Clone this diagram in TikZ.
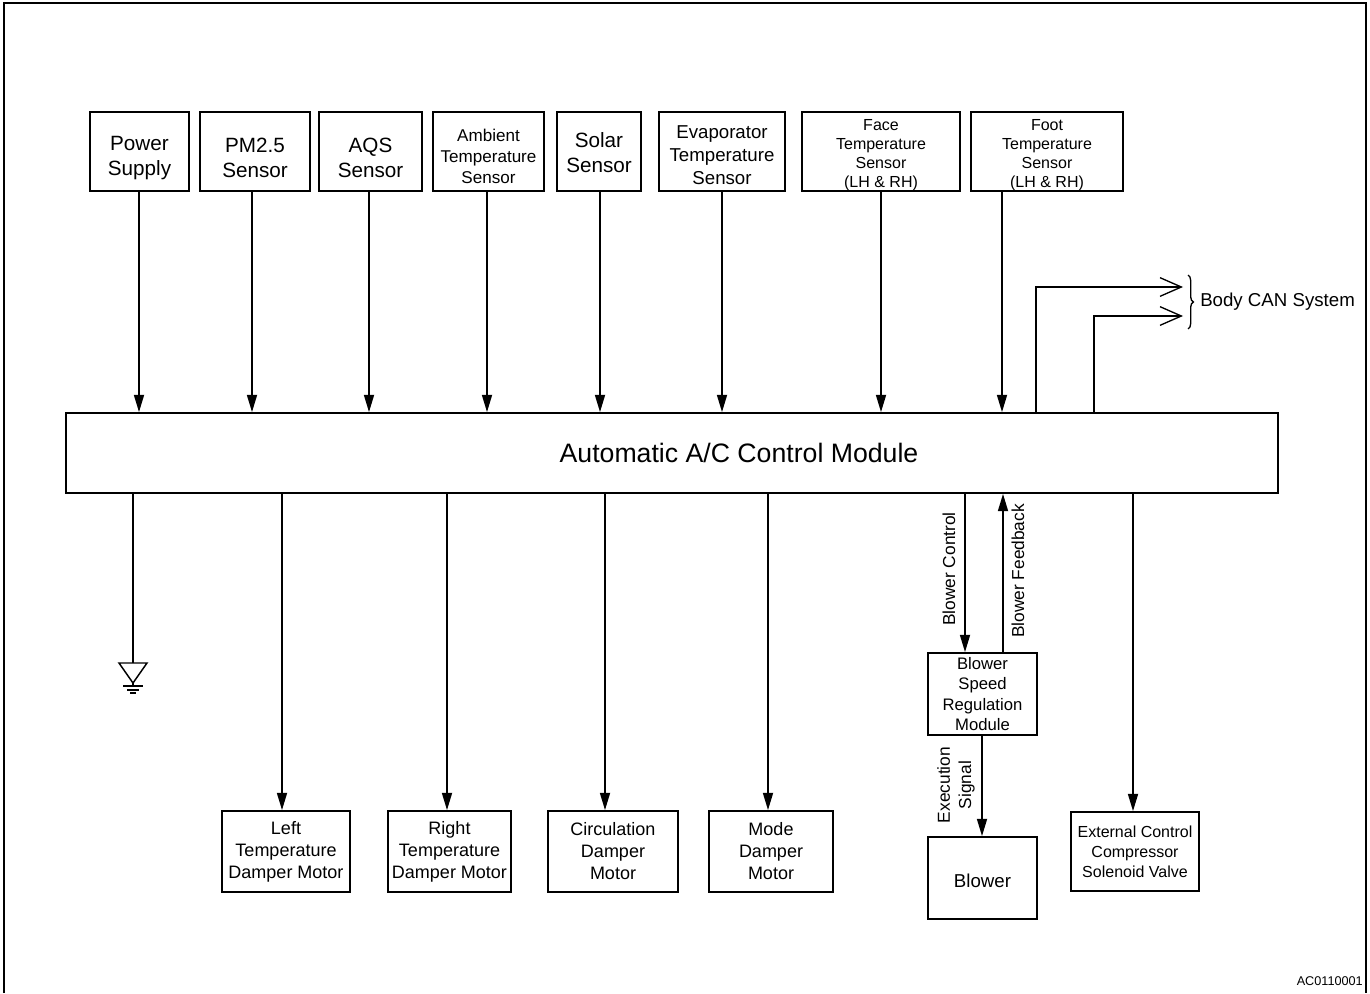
\documentclass[tikz,border=0pt]{standalone}
\usepackage{fontspec}
\setmainfont{Liberation Sans}
\usetikzlibrary{arrows.meta,decorations.pathreplacing}
\newcommand{\fsz}[2]{\fontsize{#1}{#2}\selectfont}
\begin{document}
\begin{tikzpicture}[x=0.75pt,y=-0.75pt,
  box/.style={draw, line width=1.3pt, inner sep=0pt, align=center},
  txt/.style={inner sep=0pt, align=center},
  sz/.style 2 args={minimum width=#1*0.75pt, minimum height=#2*0.75pt},
  conn/.style={line width=1.3pt},
  arr/.style={line width=1.3pt, -{Triangle[length=13pt,width=7.5pt]}},
  canarr/.style={line width=1.3pt, -{Straight Barb[length=16pt,width=14pt,line width=1pt]}},
  big/.style={font=\fsz{15.5}{18.5}},
  evap/.style={font=\fsz{14}{17.3}},
  amb/.style={font=\fsz{12.8}{15.8}},
  sml/.style={font=\fsz{12}{14.3}},
  bot/.style={font=\fsz{13.5}{16.5}},
  bsr/.style={font=\fsz{12.5}{15.4}},
  ext/.style={font=\fsz{12}{15}},
  rot/.style={font=\fsz{13}{15.8}, rotate=90, align=center, inner sep=0pt},
]
\useasboundingbox (0,0) rectangle (1370,993);
\draw[line width=2pt] (4,993) -- (4,3) -- (1366,3) -- (1366,993);

% sensors (boxes, then their texts)
\node[box,sz={99}{79}] (ps) at (139.5,151.5) {};
\node[box,sz={110}{79}] (pm) at (255,151.5) {};
\node[box,sz={103}{79}] (aqs) at (370.5,151.5) {};
\node[box,sz={111}{79}] (amb) at (488.5,151.5) {};
\node[box,sz={84}{79}] (sol) at (599,151.5) {};
\node[box,sz={126}{79}] (eva) at (722,151.5) {};
\node[box,sz={158}{79}] (face) at (881,151.5) {};
\node[box,sz={152}{79}] (foot) at (1047,151.5) {};
\node[txt,big] (pst) at ([yshift=-4.8pt]ps.center) {Power\\Supply};
\node[txt,big] (pmt) at ([yshift=-4.8pt]pm.center) {PM2.5\\Sensor};
\node[txt,big] (aqst) at ([yshift=-4.8pt]aqs.center) {AQS\\Sensor};
\node[txt,amb] (ambt) at ([yshift=-3.8pt]amb.center) {Ambient\\Temperature\\Sensor};
\node[txt,big] (solt) at ([yshift=-1pt]sol.center) {Solar\\Sensor};
\node[txt,evap] (evat) at ([yshift=-3pt]eva.center) {Evaporator\\Temperature\\Sensor};
\node[txt,sml] (facet) at ([yshift=-2.6pt]face.center) {Face\\Temperature\\Sensor\\(LH \& RH)};
\node[txt,sml] (foott) at ([yshift=-2.6pt]foot.center) {Foot\\Temperature\\Sensor\\(LH \& RH)};

% module
\node[box,sz={1212}{80}] (mod) at (672,453) {};
\node[font=\fsz{20}{24}] (modlbl) at (739,453) {Automatic A/C Control Module};

% outputs
\node[box,bot,sz={128}{81}] (ltd) at (286,851.5) {Left\\Temperature\\Damper Motor};
\node[box,bot,sz={123}{81}] (rtd) at (449.5,851.5) {Right\\Temperature\\Damper Motor};
\node[box,bot,sz={130}{81}] (cdm) at (613,851.5) {Circulation\\Damper\\Motor};
\node[box,bot,sz={124}{81}] (mdm) at (771,851.5) {Mode\\Damper\\Motor};
\node[box,bsr,sz={109}{82}] (bsr) at (982.5,694) {Blower\\Speed\\Regulation\\Module};
\node[box,font=\fsz{14}{17},sz={109}{82}] (blw) at (982.5,878) {};
\node[txt,font=\fsz{14}{17}] (blwt) at ([yshift=-1.8pt]blw.center) {Blower};
\node[box,ext,sz={128}{79}] (ecc) at (1135,851.5) {External Control\\Compressor\\Solenoid Valve};

% column coordinates
\coordinate (xps) at (139,0);
\coordinate (xpm) at (252,0);
\coordinate (xaqs) at (369,0);
\coordinate (xamb) at (487,0);
\coordinate (xsol) at (600,0);
\coordinate (xeva) at (722,0);
\coordinate (xface) at (881,0);
\coordinate (xfoot) at (1002,0);
\coordinate (xl) at (282,0);
\coordinate (xr) at (447,0);
\coordinate (xc) at (605,0);
\coordinate (xm) at (768,0);
\coordinate (xbc) at (965,0);
\coordinate (xbf) at (1003,0);
\coordinate (xex) at (982,0);
\coordinate (xecc) at (1133,0);
\coordinate (can1) at (1036,0);
\coordinate (can2) at (1094,0);
\coordinate (cantip1) at (1183,287);
\coordinate (cantip2) at (1183,316);
\coordinate (gnd) at (133,663);

% input arrows
\draw[arr] (ps.south -| xps) -- (mod.north -| xps);
\draw[arr] (pm.south -| xpm) -- (mod.north -| xpm);
\draw[arr] (aqs.south -| xaqs) -- (mod.north -| xaqs);
\draw[arr] (amb.south -| xamb) -- (mod.north -| xamb);
\draw[arr] (sol.south -| xsol) -- (mod.north -| xsol);
\draw[arr] (eva.south -| xeva) -- (mod.north -| xeva);
\draw[arr] (face.south -| xface) -- (mod.north -| xface);
\draw[arr] (foot.south -| xfoot) -- (mod.north -| xfoot);

% body CAN
\draw[canarr] (mod.north -| can1) |- (cantip1);
\draw[canarr] (mod.north -| can2) |- (cantip2);
\draw[line width=1pt, decorate, decoration={brace, amplitude=4pt}] (1188,275) -- (1188,329);
\node[anchor=west, font=\fsz{14}{17}, inner sep=0pt] (canlbl) at (1200,302) {Body CAN System};

% output arrows
\draw[arr] (mod.south -| xl) -- (ltd.north -| xl);
\draw[arr] (mod.south -| xr) -- (rtd.north -| xr);
\draw[arr] (mod.south -| xc) -- (cdm.north -| xc);
\draw[arr] (mod.south -| xm) -- (mdm.north -| xm);
\draw[arr] (mod.south -| xecc) -- (ecc.north -| xecc);
\draw[arr] (mod.south -| xbc) -- (bsr.north -| xbc);
\draw[arr] (bsr.north -| xbf) -- (mod.south -| xbf);
\draw[arr] (bsr.south -| xex) -- (blw.north -| xex);

\node[rot] (lbc) at (949,569) {Blower Control};
\node[rot] (lbf) at (1018,571) {Blower Feedback};
\node[rot] (lex) at (956,785) {Execution\\Signal};

% ground
\draw[conn] (mod.south -| gnd) -- (gnd);
\draw[line width=1.1pt] (119,663) -- (147,663) -- (133,683) -- cycle;
\draw[line width=1pt] (133,683) -- (133,686);
\draw[line width=1pt] (123,686) -- (143,686);
\draw[line width=1pt] (127,690) -- (139,690);
\draw[line width=1pt] (130,693) -- (136,693);

\node[anchor=east, font=\fsz{9.5}{11}, inner sep=0pt] (code) at (1363,981) {AC0110001};
\end{tikzpicture}
\end{document}
